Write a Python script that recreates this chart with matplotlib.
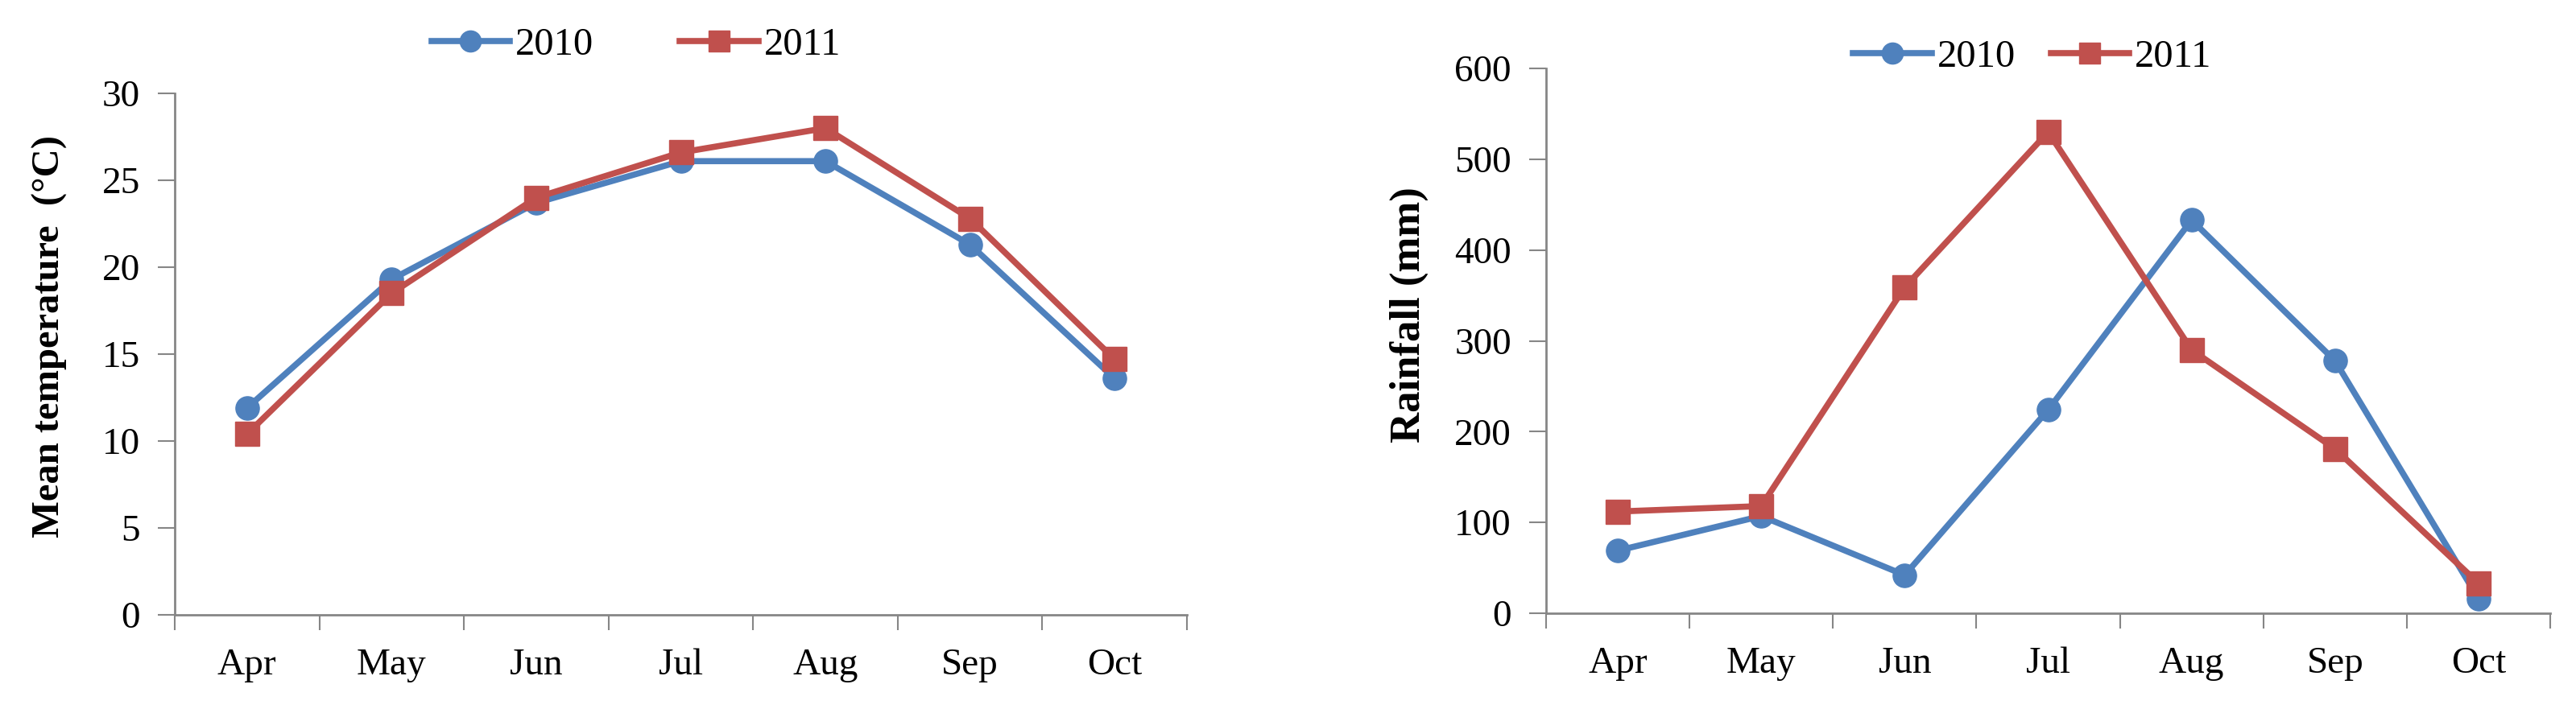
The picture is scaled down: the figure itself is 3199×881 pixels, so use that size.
import matplotlib.pyplot as plt
import numpy as np

months = ['Apr', 'May', 'Jun', 'Jul', 'Aug', 'Sep', 'Oct']
temp_2010 = [11.9, 19.3, 23.7, 26.1, 26.1, 21.3, 13.6]
temp_2011 = [10.4, 18.5, 24.0, 26.6, 28.0, 22.8, 14.7]
rain_2010 = [69, 107, 42, 224, 433, 278, 16]
rain_2011 = [112, 118, 359, 530, 290, 181, 33]

blue = '#4F81BD'
red = '#C0504D'
grey = '#868686'

plt.rcParams['font.family'] = ['Liberation Serif', 'DejaVu Serif']

W, H = 3199, 881
fig = plt.figure(figsize=(W / 100, H / 100), dpi=100)


def setup_axes(ax, ylim, yticks):
    x = np.arange(len(months))
    ax.set_xlim(-0.5, len(months) - 0.5)
    ax.set_ylim(*ylim)
    ax.set_yticks(yticks)
    # excel style: ticks between categories, labels centred
    ax.set_xticks(np.arange(len(months) + 1) - 0.5)
    ax.set_xticklabels([])
    ax.set_xticks(x, minor=True)
    ax.set_xticklabels(months, minor=True)
    ax.tick_params(axis='x', which='minor', length=0, pad=30, labelsize=34)
    ax.tick_params(axis='x', which='major', length=14, width=1.5, color=grey)
    ax.tick_params(axis='y', length=15, width=1.5, color=grey, labelsize=34, pad=16)
    for s in ['top', 'right']:
        ax.spines[s].set_visible(False)
    for s in ['left', 'bottom']:
        ax.spines[s].set_color(grey)
        ax.spines[s].set_linewidth(2)
    return x


def draw(ax, a, b):
    x = np.arange(len(months))
    ax.plot(x, a, color=blue, lw=5.5, marker='o', ms=21, label='2010', clip_on=False, zorder=3)
    ax.plot(x, b, color=red, lw=5.5, marker='s', ms=21, label='2011', clip_on=False, zorder=4)


# left panel
ax1 = fig.add_axes([217 / W, (H - 764) / H, (1474 - 217) / W, (764 - 116) / H])
setup_axes(ax1, (0, 30), range(0, 31, 5))
draw(ax1, temp_2010, temp_2011)
ax1.set_ylabel('Mean temperature  (°C)', fontsize=35, fontweight='bold')
ax1.yaxis.set_label_coords(84 / W, 1 - 418 / H, transform=fig.transFigure)
ax1.legend(loc='center', bbox_to_anchor=(790 / W, 1 - 56 / H), bbox_transform=fig.transFigure,
           ncol=2, frameon=False, fontsize=35, handlelength=2.0, columnspacing=2.2,
           handletextpad=0.15, markerscale=0.9)

# right panel
ax2 = fig.add_axes([1920 / W, (H - 762) / H, (3167 - 1920) / W, (762 - 85) / H])
setup_axes(ax2, (0, 600), range(0, 601, 100))
draw(ax2, rain_2010, rain_2011)
ax2.set_ylabel('Rainfall (mm)', fontsize=38, fontweight='bold')
ax2.yaxis.set_label_coords(1774 / W, 1 - 391 / H, transform=fig.transFigure)
ax2.legend(loc='center', bbox_to_anchor=(2524 / W, 1 - 71 / H), bbox_transform=fig.transFigure,
           ncol=2, frameon=False, fontsize=35, handlelength=2.0, columnspacing=0.9,
           handletextpad=0.15, markerscale=0.9)

fig.savefig('out.png', dpi=100)
